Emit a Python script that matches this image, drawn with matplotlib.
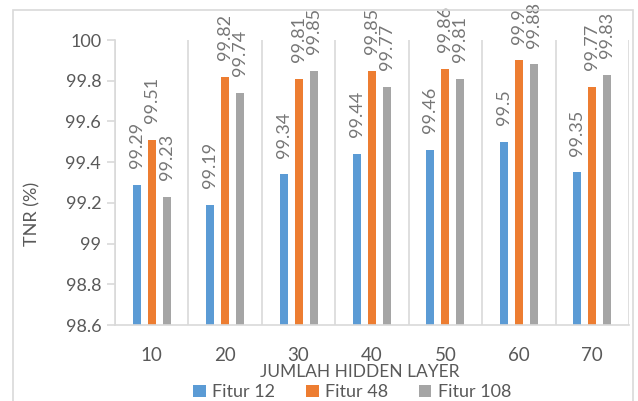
import numpy as np
import matplotlib
matplotlib.use('Agg')
import matplotlib.pyplot as plt
from matplotlib.patches import Rectangle

# TNR per jumlah hidden layer untuk tiga ukuran fitur
categories = ['10', '20', '30', '40', '50', '60', '70']
fitur_12 = [99.29, 99.19, 99.34, 99.44, 99.46, 99.5, 99.35]
fitur_48 = [99.51, 99.82, 99.81, 99.85, 99.86, 99.9, 99.77]
fitur_108 = [99.23, 99.74, 99.85, 99.77, 99.81, 99.88, 99.83]
series_names = ['Fitur 12', 'Fitur 48', 'Fitur 108']
y_ticks = [98.6, 98.8, 99.0, 99.2, 99.4, 99.6, 99.8, 100.0]

colors = ['#5b9bd5', '#ed7d31', '#a5a5a5']
plt.rcParams['font.family'] = ['Lato', 'DejaVu Sans']

fig = plt.figure(figsize=(6.38, 4.01), dpi=100)
fig.patches.append(Rectangle((0.0204, -0.1), 0.9718, 1.075, transform=fig.transFigure,
                             fill=False, edgecolor='#d9d9d9', linewidth=1.2))

ax = fig.add_axes([0.1803, 0.1895, 0.8056, 0.7107])
x = np.arange(len(categories))
offset = 0.204
width = 0.109

for i, (vals, name) in enumerate(zip([fitur_12, fitur_48, fitur_108], series_names)):
    pos = x + (i - 1) * offset
    ax.bar(pos, np.array(vals) - 98.6, width, bottom=98.6, color=colors[i], label=name)
    for xp, v in zip(pos, vals):
        ax.annotate('%g' % v, (xp, v), xytext=(0, 12), textcoords='offset points',
                    rotation=90, ha='center', va='bottom', fontsize=13, color='#767676',
                    annotation_clip=False)

ax.set_xlim(-0.5, len(categories) - 0.5)
ax.set_ylim(98.6, 100)
ax.set_yticks(y_ticks)
ax.set_yticklabels(['%g' % t for t in y_ticks])
ax.set_xticks(x)
ax.set_xticklabels(categories)
ax.set_xticks(np.arange(-0.5, len(categories)), minor=True)
ax.grid(True, which='minor', axis='x', color='#d9d9d9', linewidth=1.2)
ax.tick_params(axis='x', which='both', length=0, pad=16, labelsize=13.5, labelcolor='#595959')
ax.tick_params(axis='y', length=6, width=1.2, color='#d9d9d9', labelsize=13,
               labelcolor='#595959', pad=4)

for s in ['top', 'right']:
    ax.spines[s].set_visible(False)
for s in ['left', 'bottom']:
    ax.spines[s].set_color('#d9d9d9')
    ax.spines[s].set_linewidth(1.2)

ax.set_ylabel('TNR (%)', fontsize=13, color='#595959', va='center')
ax.yaxis.set_label_coords(-0.16, 0.39)
ax.set_xlabel('JUMLAH HIDDEN LAYER', fontsize=12.5, color='#595959', va='center')
ax.xaxis.set_label_coords(0.477, -0.165)

fig.legend(loc='center', bbox_to_anchor=(0.552, 0.022), ncol=3, frameon=False,
           fontsize=13, handlelength=0.7, handleheight=0.7, handletextpad=0.35,
           columnspacing=1.7, labelcolor='#595959')

plt.savefig('out.png', dpi=100)
